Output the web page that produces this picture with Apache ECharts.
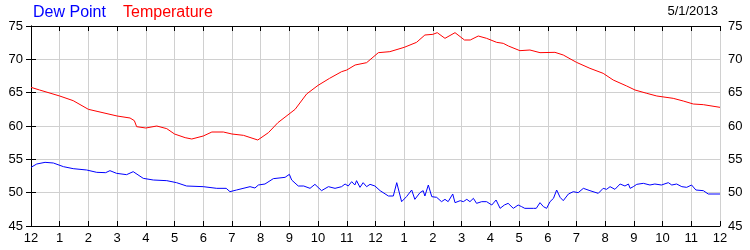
<!DOCTYPE html>
<html>
<head>
<meta charset="utf-8">
<script src="https://cdn.jsdelivr.net/npm/echarts@6/dist/echarts.min.js"></script>
<style>html,body{margin:0;padding:0;background:#fff}#c{width:750px;height:250px}</style>
</head>
<body>
<div id="c"></div>
<script>
const title1 = "Dew Point";
const title2 = "Temperature";
const dateText = "5/1/2013";
const hourTicks = ["12","1","2","3","4","5","6","7","8","9","10","11","12","1","2","3","4","5","6","7","8","9","10","11","12"];
const yTicks = [45, 50, 55, 60, 65, 70, 75];

const tempHours = [0,0.3,1.0,1.47,2.0,2.3,3.0,3.45,3.6,3.68,4.0,4.38,4.73,5.0,5.37,5.6,6.0,6.3,6.7,7.0,7.4,7.9,8.27,8.6,9.2,9.6,10.0,10.4,10.82,11.0,11.29,11.69,12.1,12.5,13.0,13.43,13.72,14.0,14.15,14.42,14.77,15.1,15.3,15.58,15.87,16.22,16.45,16.63,17.03,17.38,17.73,18.25,18.54,19.0,19.47,19.93,20.28,20.75,21.04,21.45,21.8,22.37,22.72,23.07,23.42,24];
const tempValues = [65.8,65.4,64.5,63.8,62.5,62.2,61.5,61.2,60.8,59.9,59.7,60.0,59.6,58.8,58.25,58.05,58.5,59.1,59.1,58.8,58.6,57.9,59.0,60.5,62.5,64.8,66.1,67.15,68.15,68.4,69.15,69.5,71.0,71.15,71.8,72.55,73.65,73.75,74.0,73.15,74.0,72.9,72.9,73.5,73.15,72.55,72.4,72.0,71.3,71.4,71.0,71.05,70.65,69.55,68.65,67.9,66.9,66.0,65.4,64.9,64.5,64.15,63.75,63.3,63.2,62.8];

const dewHours = [0,0.2,0.49,0.78,1.13,1.47,1.94,2.29,2.6,2.75,2.98,3.33,3.56,3.91,4.26,4.73,5.07,5.42,6.0,6.47,6.8,6.93,7.16,7.63,7.8,7.92,8.15,8.44,8.85,9.0,9.08,9.31,9.5,9.72,9.89,10.12,10.36,10.59,10.82,10.94,11.05,11.17,11.28,11.34,11.46,11.57,11.69,11.81,11.98,12.16,12.45,12.62,12.74,12.91,13.08,13.26,13.37,13.55,13.66,13.72,13.84,13.96,14.13,14.3,14.42,14.53,14.69,14.77,14.95,15.06,15.18,15.29,15.41,15.52,15.7,15.87,16.05,16.2,16.34,16.49,16.62,16.8,16.97,17.09,17.2,17.5,17.6,17.73,17.85,17.96,18.08,18.2,18.31,18.43,18.54,18.72,18.89,19.06,19.24,19.47,19.76,19.93,20.05,20.17,20.34,20.52,20.69,20.81,20.87,20.98,21.1,21.33,21.56,21.73,21.96,22.2,22.32,22.49,22.67,22.84,23.01,23.16,23.42,23.59,24];
const dewValues = [53.8,54.3,54.55,54.45,53.9,53.6,53.4,53.05,53.0,53.3,52.9,52.7,53.15,52.15,51.9,51.8,51.5,51.0,50.9,50.65,50.65,50.15,50.4,50.9,50.7,51.15,51.3,52.1,52.3,52.75,51.9,51.0,51.0,50.65,51.25,50.3,50.9,50.65,50.9,51.3,51.0,51.65,51.15,51.8,50.8,51.5,50.9,51.25,51.0,50.3,49.5,49.5,51.5,48.65,49.4,50.4,49.0,50.0,50.3,49.5,51.15,49.4,49.3,48.65,49.0,48.65,49.8,48.5,48.8,48.65,49.0,48.65,49.15,48.4,48.65,48.65,48.15,48.9,47.65,48.15,48.4,47.65,48.15,47.9,47.65,47.65,47.65,48.5,47.9,47.65,48.65,49.15,50.4,49.3,48.8,49.8,50.15,50.0,50.65,50.3,49.9,50.65,50.5,50.9,50.5,51.3,51.0,51.3,50.65,50.9,51.25,51.4,51.15,51.3,51.15,51.5,51.15,51.3,50.9,50.8,51.15,50.4,50.3,49.8,49.8];

const fontFam = '"Liberation Sans", Arial, sans-serif';
const chart = echarts.init(document.getElementById('c'), null, {renderer: 'canvas'});
const yAx = (pos, split) => ({
  type: 'value', position: pos, min: yTicks[0], max: yTicks[yTicks.length-1], interval: 5,
  axisLine: {show: true, lineStyle: {color: '#000', width: 1}},
  axisTick: {show: true, inside: false, length: 5, lineStyle: {color: '#000'}},
  axisLabel: {color: '#000', fontSize: 13, fontFamily: fontFam, margin: 8},
  splitLine: {show: split, lineStyle: {color: '#d0d0d0', width: 1}}
});
chart.setOption({
  animation: false,
  grid: {left: 31, right: 30, top: 26, bottom: 24, containLabel: false},
  xAxis: [{
    type: 'value', position: 'bottom', min: 0, max: 24, interval: 1,
    axisLine: {show: true, lineStyle: {color: '#000', width: 1}},
    axisTick: {show: true, inside: true, length: 5, lineStyle: {color: '#000'}},
    axisLabel: {color: '#000', fontSize: 13, fontFamily: fontFam, margin: 6,
      formatter: v => hourTicks[Math.round(v)]},
    splitLine: {show: true, lineStyle: {color: '#d0d0d0', width: 1}}
  }, {
    type: 'value', position: 'top', min: 0, max: 24, interval: 1,
    axisLine: {show: true, lineStyle: {color: '#000', width: 1}},
    axisTick: {show: true, inside: true, length: 5, lineStyle: {color: '#000'}},
    axisLabel: {show: false}, splitLine: {show: false}
  }],
  yAxis: [yAx('left', true), yAx('right', false)],
  series: [{
    name: title1, type: 'line', xAxisIndex: 0, yAxisIndex: 0, showSymbol: false,
    lineStyle: {color: '#0000ff', width: 1}, itemStyle: {color: '#0000ff'},
    data: dewHours.map((h, i) => [h, dewValues[i]])
  }, {
    name: title2, type: 'line', xAxisIndex: 0, yAxisIndex: 0, showSymbol: false,
    lineStyle: {color: '#ff0000', width: 1}, itemStyle: {color: '#ff0000'},
    data: tempHours.map((h, i) => [h, tempValues[i]])
  }],
  graphic: [
    {type: 'text', left: 33, top: 5, style: {text: title1, fill: '#0000ff', font: '16px ' + fontFam}},
    {type: 'text', left: 123, top: 5, style: {text: title2, fill: '#ff0000', font: '16px ' + fontFam}},
    {type: 'text', right: 32, top: 5, style: {text: dateText, fill: '#000', font: '13px ' + fontFam}}
  ]
});
</script>
</body>
</html>
